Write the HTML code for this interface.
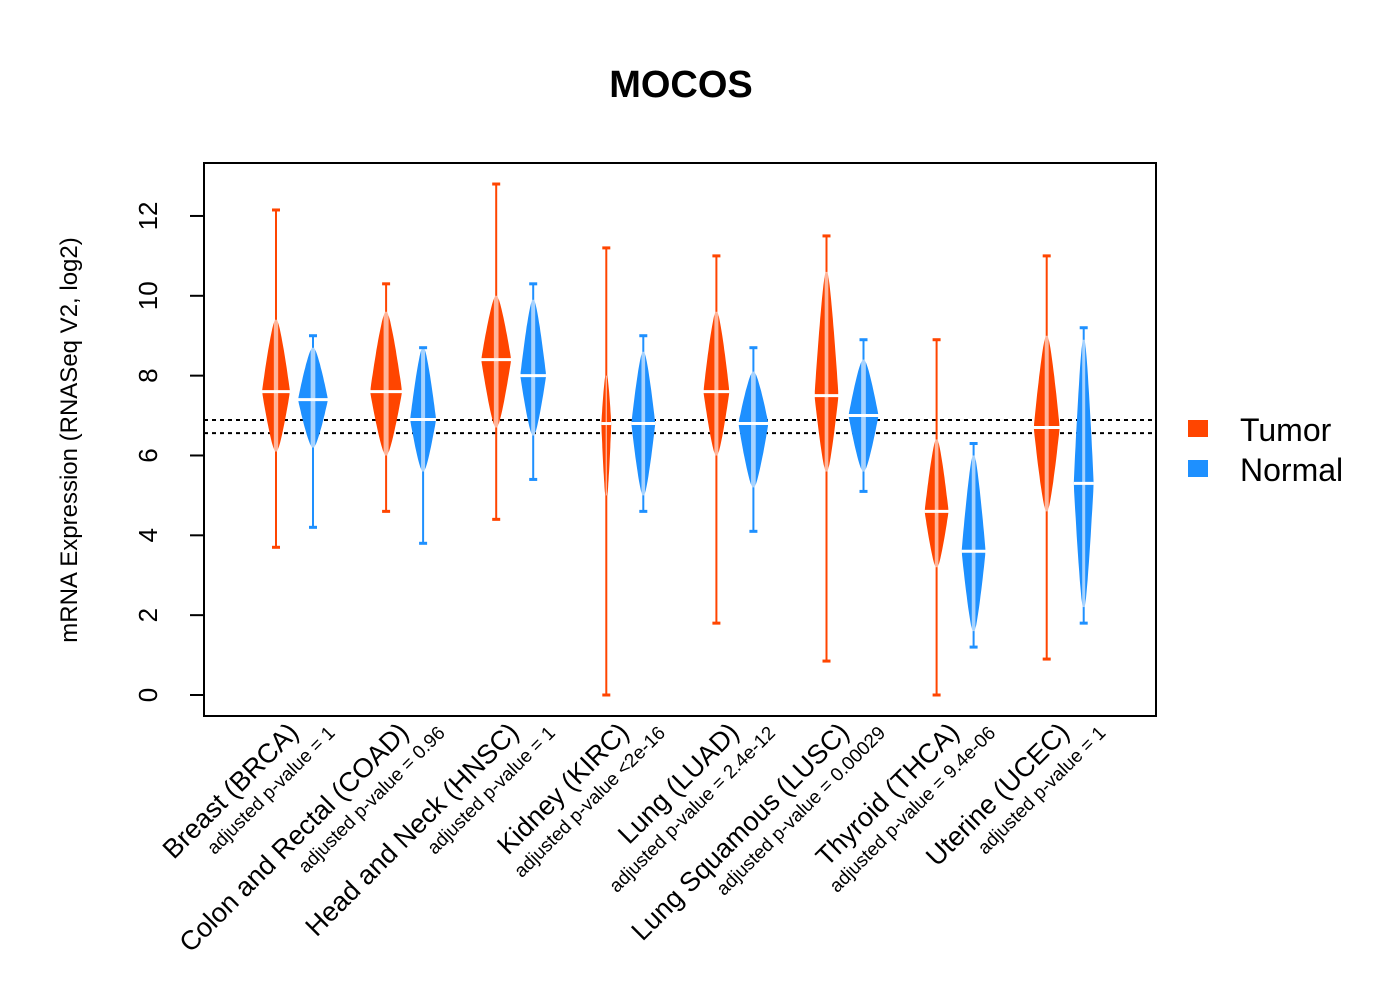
<!DOCTYPE html>
<html><head><meta charset="utf-8"><style>
body{margin:0;background:#fff}
svg{display:block;font-family:"Liberation Sans",Arial,sans-serif}
</style></head><body>
<svg id="chart" width="1400" height="1000" viewBox="0 0 1400 1000">
<text x="681" y="97" text-anchor="middle" font-size="38" font-weight="bold">MOCOS</text>
<rect x="204" y="163" width="952" height="553" fill="none" stroke="#000" stroke-width="2"/>
<g id="yaxis"></g>
<text transform="translate(77,440) rotate(-90)" text-anchor="middle" font-size="24">mRNA Expression (RNASeq V2, log2)</text>
<g id="marks"></g>
<g id="xlabels"></g>
<g>
<rect x="1188" y="420" width="20" height="17" fill="#FF4500"/>
<text x="1240" y="441" font-size="32">Tumor</text>
<rect x="1188" y="460" width="20" height="17" fill="#1E90FF"/>
<text x="1240" y="481" font-size="32">Normal</text>
</g>
</svg>
<script>
const categories=["Breast (BRCA)","Colon and Rectal (COAD)","Head and Neck (HNSC)","Kidney (KIRC)","Lung (LUAD)","Lung Squamous (LUSC)","Thyroid (THCA)","Uterine (UCEC)"];
const pvalues=["adjusted p-value = 1","adjusted p-value = 0.96","adjusted p-value = 1","adjusted p-value <2e-16","adjusted p-value = 2.4e-12","adjusted p-value = 0.00029","adjusted p-value = 9.4e-06","adjusted p-value = 1"];
const tumorMedian=[7.6,7.6,8.4,6.8,7.6,7.5,4.6,6.7];
const tumorBodyLo=[6.1,6.0,6.7,5.0,6.0,5.6,3.2,4.6];
const tumorBodyHi=[9.4,9.6,10.0,8.0,9.6,10.6,6.4,9.0];
const tumorMin=[3.7,4.6,4.4,0.0,1.8,0.85,0.0,0.9];
const tumorMax=[12.15,10.3,12.8,11.2,11.0,11.5,8.9,11.0];
const tumorScale=[13,15,14,4,12,11,11,12];
const normalMedian=[7.4,6.9,8.0,6.8,6.8,7.0,3.6,5.3];
const normalBodyLo=[6.2,5.6,6.5,5.0,5.2,5.6,1.6,2.2];
const normalBodyHi=[8.7,8.7,9.9,8.6,8.1,8.4,6.0,8.9];
const normalMin=[4.2,3.8,5.4,4.6,4.1,5.1,1.2,1.8];
const normalMax=[9.0,8.7,10.3,9.0,8.7,8.9,6.3,9.2];
const normalScale=[14,12,12,11,14,14,11,9];
const yTicks=[0,2,4,6,8,10,12];
const refLines=[6.89,6.56];

const NS="http://www.w3.org/2000/svg";
const y=v=>695-39.92*v;
const xT=i=>276+110.1*i, xN=i=>313+110.1*i;
function mk(tag,attrs,parent){const e=document.createElementNS(NS,tag);for(const k in attrs)e.setAttribute(k,attrs[k]);parent.appendChild(e);return e;}
const ya=document.getElementById('yaxis');
yTicks.forEach(t=>{
 const l=mk('line',{x1:190,x2:204,y1:y(t),y2:y(t),stroke:'#000','stroke-width':2},ya);
 
 
 const tx=mk('text',{transform:`translate(157,${y(t)}) rotate(-90)`,'text-anchor':'middle','font-size':26},ya);
 tx.textContent=t;
 
 
});
const mg=document.getElementById('marks');
refLines.forEach(v=>{
 const l=mk('line',{x1:204,x2:1156,y1:y(v),y2:y(v),stroke:'#000','stroke-width':2,'stroke-dasharray':'4,4'},mg);
 
 
});
function wid(r,hw){return hw*Math.pow(Math.max(0,1-r),0.75)+1;}
function violin(cx,med,lo,hi,mn,mx,hw,col,name){
 const g=mk('g',{},mg);
 
 
 mk('line',{x1:cx,x2:cx,y1:y(mn),y2:y(mx),stroke:col,'stroke-width':2},g);
 const N=30,pts=[];
 for(let k=0;k<=N;k++){const v=lo+(hi-lo)*k/N;const r=v<med?(med-v)/(med-lo):(v-med)/(hi-med);pts.push([cx+wid(r,hw),y(v)]);}
 for(let k=N;k>=0;k--){const v=lo+(hi-lo)*k/N;const r=v<med?(med-v)/(med-lo):(v-med)/(hi-med);pts.push([cx-wid(r,hw),y(v)]);}
 mk('path',{d:'M'+pts.map(p=>p[0].toFixed(1)+','+p[1].toFixed(1)).join('L')+'Z',fill:col},g);
 mk('line',{x1:cx,x2:cx,y1:y(hi),y2:y(lo),stroke:'rgba(255,255,255,0.6)','stroke-width':Math.min(6,hw/3)},g);
 [mn,mx].forEach(v=>mk('rect',{x:cx-4,y:y(v)-1.5,width:8,height:3,fill:col},g));
 mk('line',{x1:cx-hw-1,x2:cx+hw+1,y1:y(med),y2:y(med),stroke:'#fff','stroke-width':3},g);
}
categories.forEach((c,i)=>{
 violin(xT(i),tumorMedian[i],tumorBodyLo[i],tumorBodyHi[i],tumorMin[i],tumorMax[i],tumorScale[i],'#FF4500','violin-tumor-'+i);
 violin(xN(i),normalMedian[i],normalBodyLo[i],normalBodyHi[i],normalMin[i],normalMax[i],normalScale[i],'#1E90FF','violin-normal-'+i);
});
const xl=document.getElementById('xlabels');
categories.forEach((c,i)=>{
 const a=mk('text',{transform:`translate(${xT(i)+24},${734}) rotate(-45)`,'text-anchor':'end','font-size':27},xl);
 a.textContent=c;
 
 
 const b=mk('text',{transform:`translate(${xT(i)+60},${734}) rotate(-45)`,'text-anchor':'end','font-size':19},xl);
 b.textContent=pvalues[i];
 
 
});
</script>
</body></html>
